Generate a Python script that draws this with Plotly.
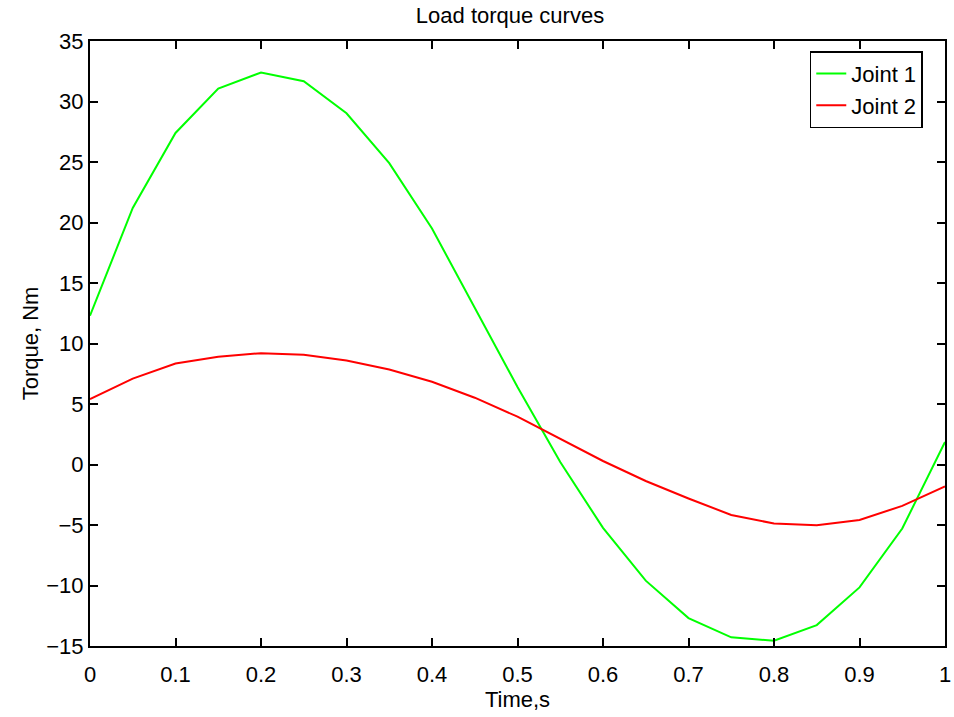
import plotly.graph_objects as go

time_s = [0, 0.05, 0.1, 0.15, 0.2, 0.25, 0.3, 0.35, 0.4, 0.45, 0.5,
          0.55, 0.6, 0.65, 0.7, 0.75, 0.8, 0.85, 0.9, 0.95, 1.0]
joint1 = [12.3, 21.2, 27.4, 31.07, 32.4, 31.67, 29.03, 24.9, 19.5, 13.0, 6.4,
          0.2, -5.24, -9.6, -12.69, -14.28, -14.56, -13.27, -10.16, -5.29, 1.86]
joint2 = [5.4, 7.1, 8.35, 8.9, 9.2, 9.07, 8.6, 7.85, 6.84, 5.52, 3.95,
          2.1, 0.29, -1.36, -2.81, -4.17, -4.88, -5.02, -4.58, -3.42, -1.82]
x_ticks = [0, 0.1, 0.2, 0.3, 0.4, 0.5, 0.6, 0.7, 0.8, 0.9, 1]
x_tick_text = ["0", "0.1", "0.2", "0.3", "0.4", "0.5", "0.6", "0.7", "0.8", "0.9", "1"]
y_ticks = [-15, -10, -5, 0, 5, 10, 15, 20, 25, 30, 35]

font_family = "Liberation Sans, Arial, sans-serif"

fig = go.Figure()
fig.add_trace(go.Scatter(x=time_s, y=joint1, mode="lines", name="Joint 1",
                         line=dict(color="#00ff00", width=2)))
fig.add_trace(go.Scatter(x=time_s, y=joint2, mode="lines", name="Joint 2",
                         line=dict(color="#ff0000", width=2)))

axis_common = dict(showgrid=False, zeroline=False, showline=True, linecolor="black",
                   linewidth=2, mirror="ticks", ticks="inside", ticklen=8,
                   tickwidth=1.5, tickcolor="black", automargin=False,
                   ticklabeloverflow="allow",
                   tickfont=dict(family=font_family, size=22, color="black"))

fig.update_layout(
    width=954, height=717,
    margin=dict(l=90, r=9, t=41, b=71, autoexpand=False),
    paper_bgcolor="white", plot_bgcolor="white",
    title=dict(text="Load torque curves", x=510 / 954, xanchor="center",
               y=1 - 15 / 717, yanchor="middle",
               font=dict(family=font_family, size=22, color="black")),
    xaxis=dict(range=[0, 1], tickvals=x_ticks, ticktext=x_tick_text,
               ticklabelstandoff=8,
               title=dict(text="Time,s", standoff=4,
                          font=dict(family=font_family, size=22, color="black")),
               **axis_common),
    yaxis=dict(range=[-15, 35], tickvals=y_ticks,
               title=dict(text="Torque, Nm", standoff=2,
                          font=dict(family=font_family, size=22, color="black")),
               **axis_common),
    legend=dict(x=0.974, y=0.983, xanchor="right", yanchor="top",
                bgcolor="white", bordercolor="black", borderwidth=1.5,
                font=dict(family=font_family, size=22, color="black")),
    showlegend=True,
)

fig.write_html("out.html")
